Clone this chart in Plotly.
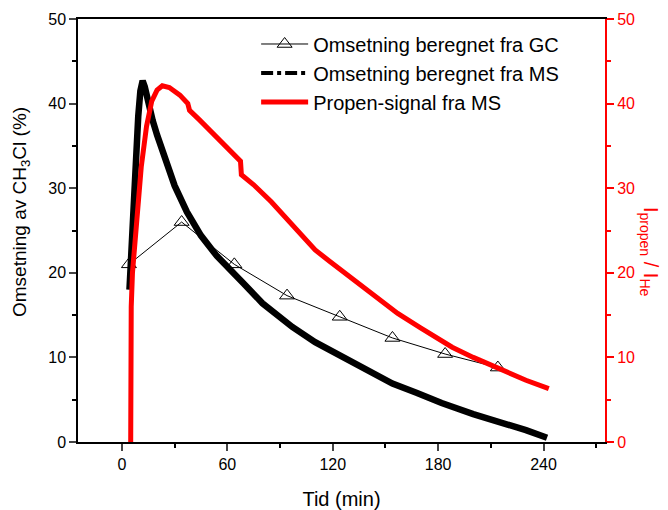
import plotly.graph_objects as go

# GC-based conversion (left axis, %)
gc_t = [4, 34, 64, 94, 124, 154, 184, 214]
gc_y = [21.0, 26.0, 21.0, 17.3, 14.8, 12.3, 10.4, 8.8]

# MS-based conversion (left axis, %)
ms_t = [4.3, 5.5, 6.8, 8.0, 9.3, 10.5, 11.8, 13.0, 15.0, 17.5, 20.0, 25.0, 30.0, 37.0,
        45.0, 54.0, 60.0, 64.0, 69.0, 80.0, 90.0, 97.0, 110.0, 125.0, 140.0, 154.0,
        168.0, 182.0, 200.0, 218.0, 230.0, 242.0]
ms_y = [18.0, 24.0, 29.0, 34.0, 38.5, 41.5, 42.7, 42.0, 40.0, 38.0, 36.3, 33.3, 30.3, 27.2,
        24.4, 22.0, 20.8, 20.0, 18.8, 16.4, 14.7, 13.6, 11.8, 10.1, 8.4, 6.9,
        5.8, 4.6, 3.3, 2.2, 1.4, 0.5]

# Propene signal (right axis)
pr_t = [5.0, 5.1, 5.3, 6.0, 8.5, 11.0, 14.0, 17.0, 20.0, 23.0, 27.0, 33.0, 37.5, 38.5,
        44.0, 50.0, 56.0, 63.0, 67.5, 68.0, 75.0, 85.0, 99.0, 110.0, 118.0, 130.0,
        146.0, 157.0, 170.0, 188.0, 200.0, 218.0, 230.0, 243.0]
pr_y = [0.0, 8.0, 16.0, 20.0, 27.0, 32.5, 37.3, 40.3, 41.6, 42.1, 41.9, 41.0, 40.0, 39.2,
        38.1, 36.8, 35.5, 34.1, 33.2, 31.6, 30.4, 28.4, 25.1, 22.7, 21.4, 19.5,
        16.8, 15.2, 13.5, 11.2, 10.0, 8.3, 7.3, 6.3]

x_ticks = [0, 60, 120, 180, 240]
y_ticks = [0, 10, 20, 30, 40, 50]

FONT = "Liberation Sans, Arial, sans-serif"
RED = "#ff0000"

fig = go.Figure()

fig.add_trace(go.Scatter(
    x=gc_t, y=gc_y, mode="lines+markers", name="Omsetning beregnet fra GC",
    line=dict(color="black", width=1),
    marker=dict(symbol="triangle-up-open", size=13, color="black", line=dict(width=1)),
))
fig.add_trace(go.Scatter(
    x=ms_t, y=ms_y, mode="lines", showlegend=False,
    line=dict(color="black", width=6.5),
))
fig.add_trace(go.Scatter(
    x=[None], y=[None], mode="lines", name="Omsetning beregnet fra MS",
    line=dict(color="black", width=4, dash="dashdot"),
))
fig.add_trace(go.Scatter(
    x=pr_t, y=pr_y, mode="lines", name="Propen-signal fra MS", yaxis="y2",
    line=dict(color=RED, width=5),
))

fig.update_layout(
    width=668, height=510,
    margin=dict(l=78, r=63, t=19, b=68),
    paper_bgcolor="white", plot_bgcolor="white",
    font=dict(family=FONT, size=16, color="black"),
    showlegend=True,
    legend=dict(x=0.338, y=0.987, xanchor="left", yanchor="top",
                bgcolor="rgba(0,0,0,0)", font=dict(size=20), itemwidth=47,
                tracegroupgap=0),
    xaxis=dict(
        range=[-25, 275], tickvals=x_ticks, ticks="outside", ticklen=7, tickwidth=1.5,
        showline=True, linecolor="black", linewidth=1.5, mirror=True,
        showgrid=False, zeroline=False, automargin=False,
        minor=dict(dtick=30, tick0=0, ticks="outside", ticklen=4, tickwidth=1.5, tickcolor="black"),
        title=dict(text="Tid (min)", font=dict(size=20), standoff=20),
        tickfont=dict(size=16),
    ),
    yaxis=dict(
        range=[0, 50], tickvals=y_ticks, ticks="outside", ticklen=7, tickwidth=1.5,
        showline=True, linecolor="black", linewidth=1.5,
        showgrid=False, zeroline=False, automargin=False,
        minor=dict(dtick=5, tick0=0, ticks="outside", ticklen=4, tickwidth=1.5, tickcolor="black"),
        tickfont=dict(size=16),
    ),
    yaxis2=dict(
        range=[0, 50], tickvals=y_ticks, overlaying="y", side="right",
        ticks="outside", ticklen=7, tickwidth=1.5, tickcolor=RED,
        showline=True, linecolor=RED, linewidth=2,
        showgrid=False, zeroline=False, automargin=False,
        minor=dict(dtick=5, tick0=0, ticks="outside", ticklen=4, tickwidth=1.5, tickcolor=RED),
        tickfont=dict(size=16, color=RED),
    ),
    annotations=[
        dict(text="Omsetning av CH<sub>3</sub>Cl (%)", textangle=-90,
             xref="paper", yref="paper", x=(21 - 78) / 527, y=(442 - 212) / 423,
             xanchor="center", yanchor="middle", showarrow=False,
             font=dict(size=19, color="black")),
        dict(text="I<sub>propen</sub> / I<sub>He</sub>", textangle=90,
             xref="paper", yref="paper", x=(650 - 78) / 527, y=(442 - 252) / 423,
             xanchor="center", yanchor="middle", showarrow=False,
             font=dict(size=20, color=RED)),
    ],
)

fig.write_html("out.html")
